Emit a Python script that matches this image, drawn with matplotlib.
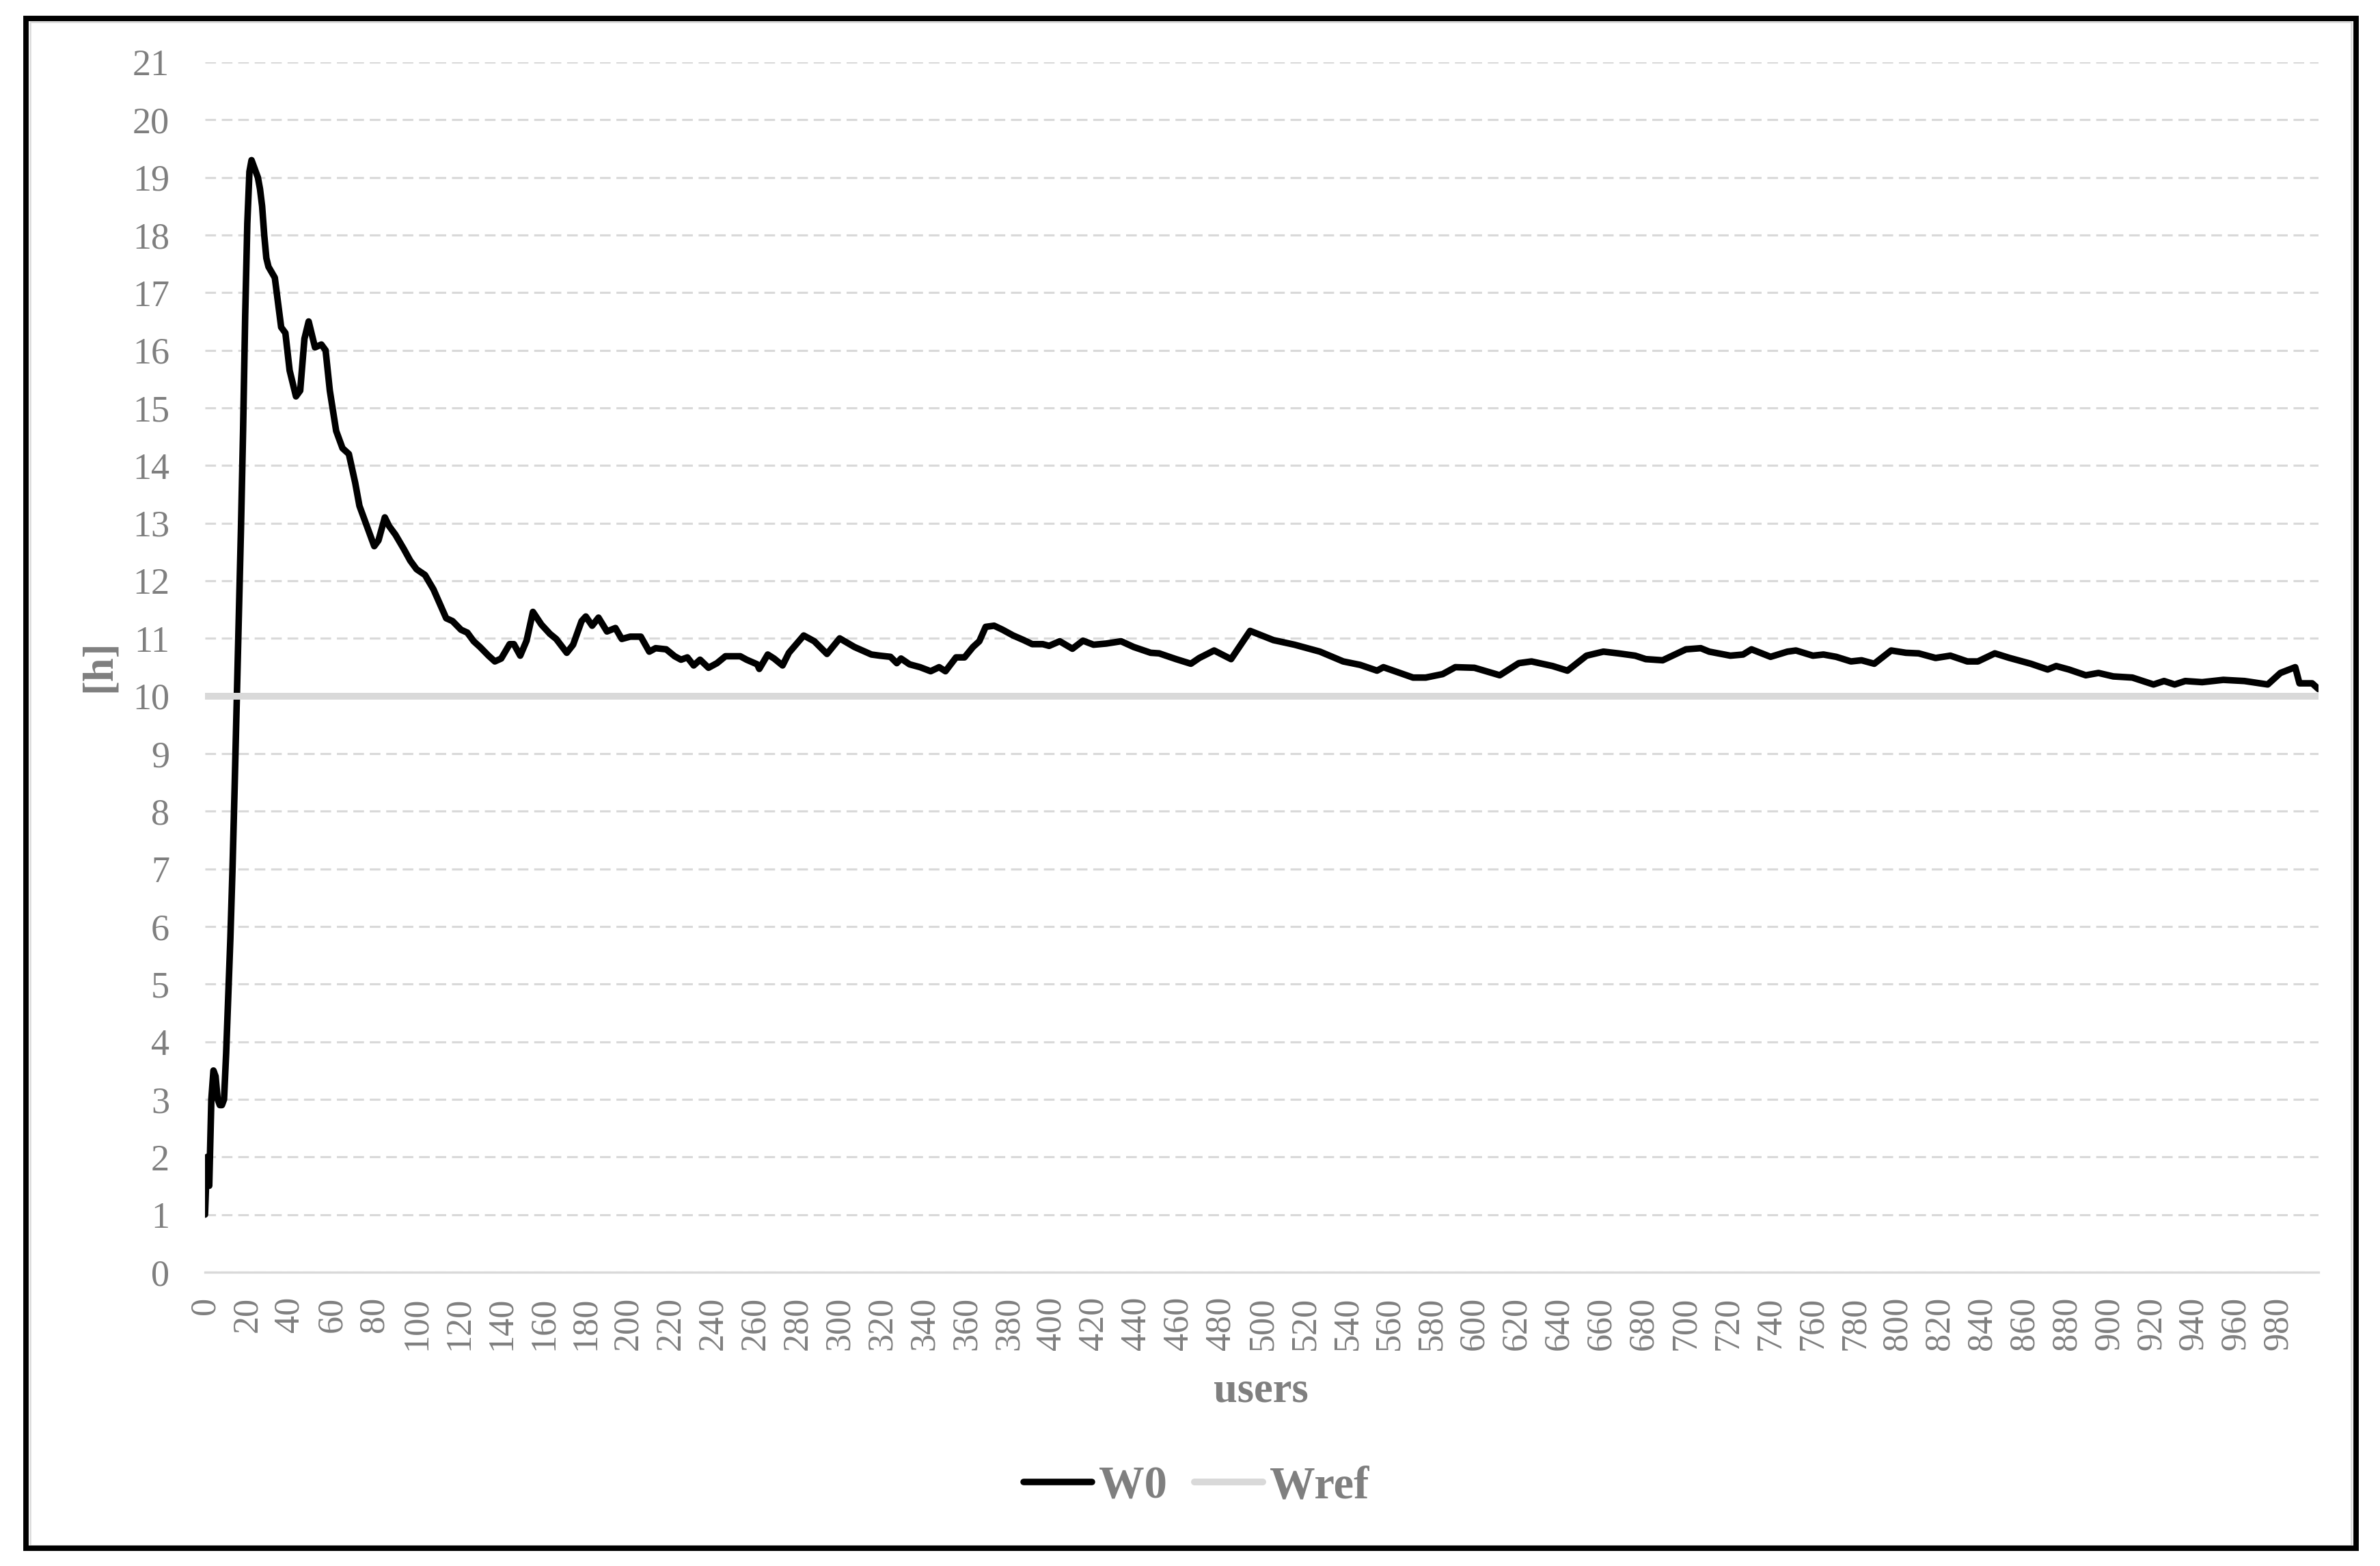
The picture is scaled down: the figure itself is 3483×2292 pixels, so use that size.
import matplotlib
matplotlib.use("Agg")
import matplotlib.pyplot as plt
from matplotlib.patches import Rectangle

W, H, DPI = 3483, 2292, 300
GREY_TXT = "#7F7F7F"
GREY_LN = "#D9D9D9"

users = [0, 1, 2, 3, 4, 5, 6, 7, 8, 9, 10, 11, 12, 13, 14, 15, 16, 17, 18, 19,
         20, 21, 22, 23, 24, 25, 26, 27, 28, 29, 30, 33, 36, 38, 40, 43, 45, 47, 49, 52,
         55, 57, 59, 62, 65, 68, 71, 73, 76, 80, 82, 85, 87, 90, 94, 97, 100, 104, 108, 111,
         114, 117, 121, 124, 127, 130, 134, 137, 140, 144, 146, 149, 152, 155, 159, 163, 166, 171, 174, 178,
         180, 183, 186, 190, 194, 197, 201, 206, 210, 213, 218, 222, 225, 228, 231, 234, 238, 242, 246, 253,
         256, 261, 262, 266, 269, 273, 276, 283, 288, 294, 300, 307, 315, 319, 324, 327, 329, 333, 338, 343,
         347, 350, 355, 359, 363, 366, 369, 373, 377, 382, 387, 391, 396, 399, 404, 410, 415, 420, 426, 433,
         439, 447, 451, 459, 466, 470, 477, 485, 494, 505, 515, 527, 538, 546, 554, 557, 571, 577, 585, 591,
         600, 612, 621, 627, 637, 644, 653, 661, 668, 676, 681, 689, 700, 707, 711, 721, 727, 731, 740, 748,
         752, 760, 765, 771, 778, 783, 789, 797, 804, 810, 818, 825, 833, 838, 846, 853, 863, 871, 875, 881,
         889, 895, 902, 911, 921, 926, 931, 936, 944, 954, 964, 975, 981, 988, 990, 996, 999]

w0 = [1.0, 2.0, 1.5, 3.0, 3.5, 3.4, 3.0, 2.9, 2.9, 3.0, 3.8, 4.8, 5.8, 7.0, 8.4, 9.9, 11.4, 12.9, 14.6, 16.6,
      18.2, 19.1, 19.3, 19.2, 19.1, 19.0, 18.8, 18.5, 18.0, 17.6, 17.45, 17.26, 16.4, 16.3, 15.65, 15.2, 15.3, 16.2, 16.5, 16.05,
      16.1, 16.0, 15.3, 14.6, 14.3, 14.2, 13.7, 13.3, 13.0, 12.6, 12.7, 13.1, 12.95, 12.8, 12.55, 12.35, 12.2, 12.1, 11.85, 11.6,
      11.35, 11.3, 11.15, 11.1, 10.95, 10.85, 10.7, 10.6, 10.65, 10.9, 10.9, 10.7, 10.96, 11.46, 11.24, 11.08, 10.99, 10.75, 10.89, 11.3,
      11.38, 11.22, 11.36, 11.12, 11.18, 10.99, 11.03, 11.03, 10.77, 10.83, 10.81, 10.69, 10.63, 10.67, 10.53, 10.63, 10.49, 10.57, 10.69, 10.69,
      10.63, 10.55, 10.47, 10.72, 10.65, 10.53, 10.75, 11.05, 10.95, 10.73, 11.0, 10.85, 10.72, 10.7, 10.68, 10.57, 10.65, 10.55, 10.5, 10.43,
      10.5, 10.43, 10.67, 10.67, 10.85, 10.95, 11.2, 11.22, 11.15, 11.05, 10.97, 10.9, 10.9, 10.87, 10.95, 10.82, 10.96, 10.89, 10.91, 10.95,
      10.85, 10.75, 10.74, 10.64, 10.56, 10.66, 10.79, 10.64, 11.13, 10.97, 10.89, 10.77, 10.6, 10.54, 10.44, 10.5, 10.32, 10.32, 10.38, 10.5,
      10.49, 10.36, 10.57, 10.6, 10.52, 10.44, 10.7, 10.77, 10.74, 10.7, 10.64, 10.62, 10.81, 10.83, 10.77, 10.7, 10.72, 10.81, 10.68, 10.77,
      10.79, 10.7, 10.72, 10.68, 10.6, 10.62, 10.56, 10.79, 10.75, 10.74, 10.66, 10.7, 10.6, 10.6, 10.74, 10.66, 10.56, 10.46, 10.52, 10.46,
      10.36, 10.4, 10.34, 10.32, 10.2, 10.26, 10.2, 10.26, 10.24, 10.28, 10.26, 10.2, 10.4, 10.5, 10.22, 10.22, 10.12]

wref = 10.0
y_ticks = list(range(0, 22))
x_ticks = list(range(0, 1000, 20))

plt.rcParams["font.family"] = ["Liberation Serif", "DejaVu Serif"]

fig = plt.figure(figsize=(W / DPI, H / DPI), dpi=DPI)
ax = fig.add_axes([300 / W, 1 - 1862 / H, (3393 - 300) / W, (1862 - 91) / H])

ax.plot(users, w0, color="black", lw=2.3, solid_joinstyle="round",
        solid_capstyle="round", label="W0", zorder=3)
ax.plot([users[0], users[-1]], [wref, wref], color=GREY_LN, lw=2.4,
        solid_capstyle="round", label="Wref", zorder=4)

ax.set_xlim(users[0], users[-1])
ax.set_ylim(0, 21)
ax.set_yticks(y_ticks)
ax.set_xticks(x_ticks)
ax.set_xticklabels([str(t) for t in x_ticks], rotation=90)
ax.tick_params(axis="y", length=0, pad=12.5, labelsize=13, labelcolor=GREY_TXT)
ax.tick_params(axis="x", length=0, pad=8.6, labelsize=12.5, labelcolor=GREY_TXT)

ax.set_axisbelow(True)
ax.yaxis.grid(True, color=GREY_LN, lw=0.75, linestyle=(0, (5, 2.7)))
for s in ("top", "right", "left"):
    ax.spines[s].set_visible(False)
ax.spines["bottom"].set_color(GREY_LN)
ax.spines["bottom"].set_linewidth(0.8)

fig.text(1845 / W, 1 - 2036 / H, "users", ha="center", va="center",
         fontsize=15, fontweight="bold", color=GREY_TXT)
fig.text(146 / W, 1 - 975 / H, "[h]", ha="center", va="center", rotation=90,
         fontsize=15, fontweight="bold", color=GREY_TXT)

leg = fig.legend(loc="center", bbox_to_anchor=(1751 / W, 1 - 2176 / H), ncol=2,
                 frameon=False, handlelength=1.5, handletextpad=0.15,
                 columnspacing=0.6, prop={"size": 16, "weight": "bold"})
for t in leg.get_texts():
    t.set_color(GREY_TXT)

fig.patches.append(Rectangle((44 / W, 1 - 2262 / H), (3441 - 44) / W, (2262 - 32) / H,
                             transform=fig.transFigure, fill=False, ec=GREY_LN, lw=0.6))
fig.patches.append(Rectangle((38 / W, 1 - 2266 / H), (3448 - 38) / W, (2266 - 27) / H,
                             transform=fig.transFigure, fill=False, ec="black", lw=1.9))

fig.savefig("out.png", dpi=DPI)
